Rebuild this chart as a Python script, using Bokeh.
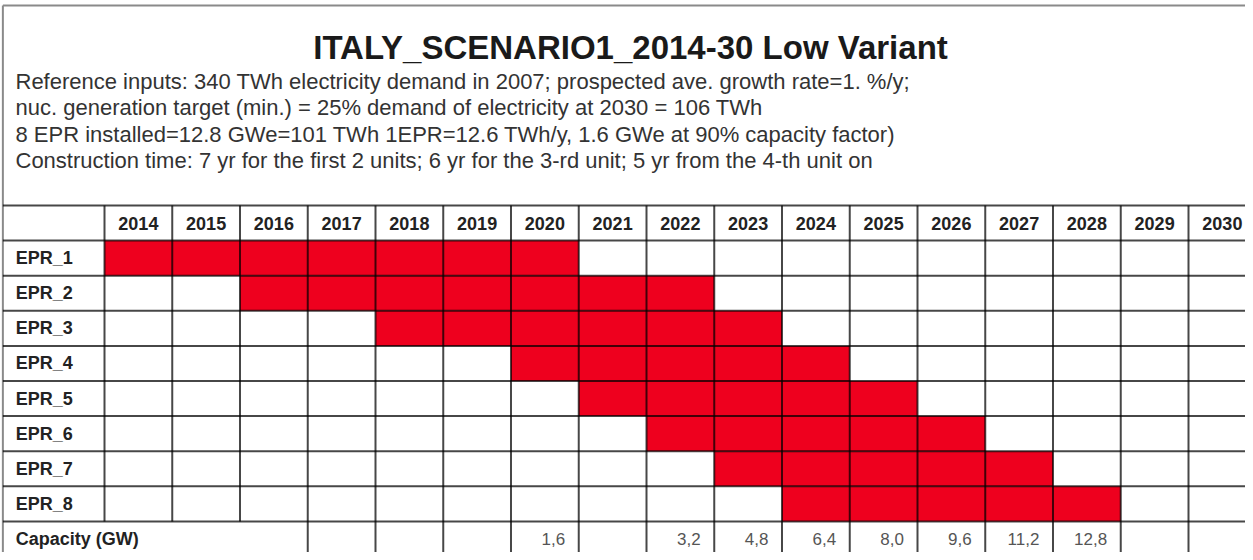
from bokeh.plotting import figure
from bokeh.models import Range1d, Label, ColumnDataSource
from bokeh.core.properties import value
from bokeh.embed import file_html
from bokeh.resources import INLINE

# ---------------- data ----------------
title_text = "ITALY_SCENARIO1_2014-30 Low Variant"
subtitle_lines = [
    "Reference inputs: 340 TWh electricity demand in 2007; prospected ave. growth rate=1. %/y;",
    "nuc. generation target (min.) = 25% demand of electricity at 2030 = 106 TWh",
    "8 EPR installed=12.8 GWe=101 TWh 1EPR=12.6 TWh/y, 1.6 GWe at 90% capacity factor)",
    "Construction time: 7 yr for the first 2 units; 6 yr for the 3-rd unit; 5 yr from the 4-th unit on",
]
years = [2014, 2015, 2016, 2017, 2018, 2019, 2020, 2021, 2022, 2023,
         2024, 2025, 2026, 2027, 2028, 2029, 2030]
units = ["EPR_1", "EPR_2", "EPR_3", "EPR_4", "EPR_5", "EPR_6", "EPR_7", "EPR_8"]
start_year = [2014, 2016, 2018, 2020, 2021, 2022, 2023, 2024]
end_year = [2020, 2022, 2023, 2024, 2025, 2026, 2027, 2028]
capacity_label = "Capacity (GW)"
capacity_years = [2020, 2022, 2023, 2024, 2025, 2026, 2027, 2028]
capacity_gw = [1.6, 3.2, 4.8, 6.4, 8.0, 9.6, 11.2, 12.8]

FONT = value("Liberation Sans")
RED = "#EE001E"

W, H = 1245, 552
p = figure(width=W, height=H, output_backend="svg", toolbar_location=None,
           x_range=Range1d(-1.535, -1.535 + W / 67.75),
           y_range=Range1d(-5.840 + H / 35.1, -5.840),
           min_border=0)
p.axis.visible = False
p.grid.visible = False
p.outline_line_color = None
p.background_fill_color = "white"

y0 = years[0]
n = len(years)
cap_row = len(units) + 1

# red construction bars
bars = ColumnDataSource(dict(
    left=[s - y0 for s in start_year],
    right=[e - y0 + 1 for e in end_year],
    top=[i + 1 for i in range(len(units))],
    bottom=[i + 2 for i in range(len(units))],
))
p.quad(left="left", right="right", top="top", bottom="bottom", source=bars,
       fill_color=RED, line_color=None)

# outer box
p.segment(x0=[-1.5, -1.5], y0=[-5.70, -5.70], x1=[n + 2, -1.5], y1=[-5.70, cap_row + 2],
          line_color="#8a8a8a", line_width=2)

# table grid
hx0, hy0, hx1, hy1 = [], [], [], []
for k in range(cap_row + 1):
    hx0.append(-1.5); hx1.append(n + 2); hy0.append(k); hy1.append(k)
p.segment(x0=hx0, y0=hy0, x1=hx1, y1=hy1, line_color="black", line_alpha=0.72, line_width=2)

vx0, vy0, vx1, vy1 = [], [], [], []
for i in range(n + 1):
    bottom = cap_row + 2 if i >= 3 else cap_row
    vx0.append(i); vx1.append(i); vy0.append(0); vy1.append(bottom)
p.segment(x0=vx0, y0=vy0, x1=vx1, y1=vy1, line_color="black", line_alpha=0.72, line_width=2)

# header years
p.text(x=[i + 0.5 for i in range(n)], y=[0.5] * n, text=[str(y) for y in years],
       text_font=FONT, text_font_size="18px", text_font_style="bold",
       text_color="#222222", text_align="center", text_baseline="middle")

# row labels
row_labels = units + [capacity_label]
p.text(x=[-1.5 + 0.19] * len(row_labels), y=[i + 1.5 for i in range(len(row_labels))],
       text=row_labels, text_font=FONT, text_font_size="18px", text_font_style="bold",
       text_color="#222222", text_align="left", text_baseline="middle")

# capacity values
p.text(x=[c - y0 + 1 - 0.2 for c in capacity_years], y=[cap_row + 0.5] * len(capacity_years),
       text=[f"{v:.1f}".replace(".", ",") for v in capacity_gw],
       text_font=FONT, text_font_size="17px", text_color="#555555",
       text_align="right", text_baseline="middle")

# title and subtitle
p.add_layout(Label(x=630, y=H - 47, x_units="screen", y_units="screen", text=title_text,
                   text_font="Liberation Sans", text_font_size="33px", text_font_style="bold",
                   text_color="#1a1a1a", text_align="center", text_baseline="middle"))
for j, line in enumerate(subtitle_lines):
    p.add_layout(Label(x=15, y=H - 80.5 - 26.5 * j, x_units="screen", y_units="screen", text=line,
                       text_font="Liberation Sans", text_font_size="22px",
                       text_color="#333333", text_align="left", text_baseline="middle"))

open("out.html", "w").write(file_html(p, INLINE))
